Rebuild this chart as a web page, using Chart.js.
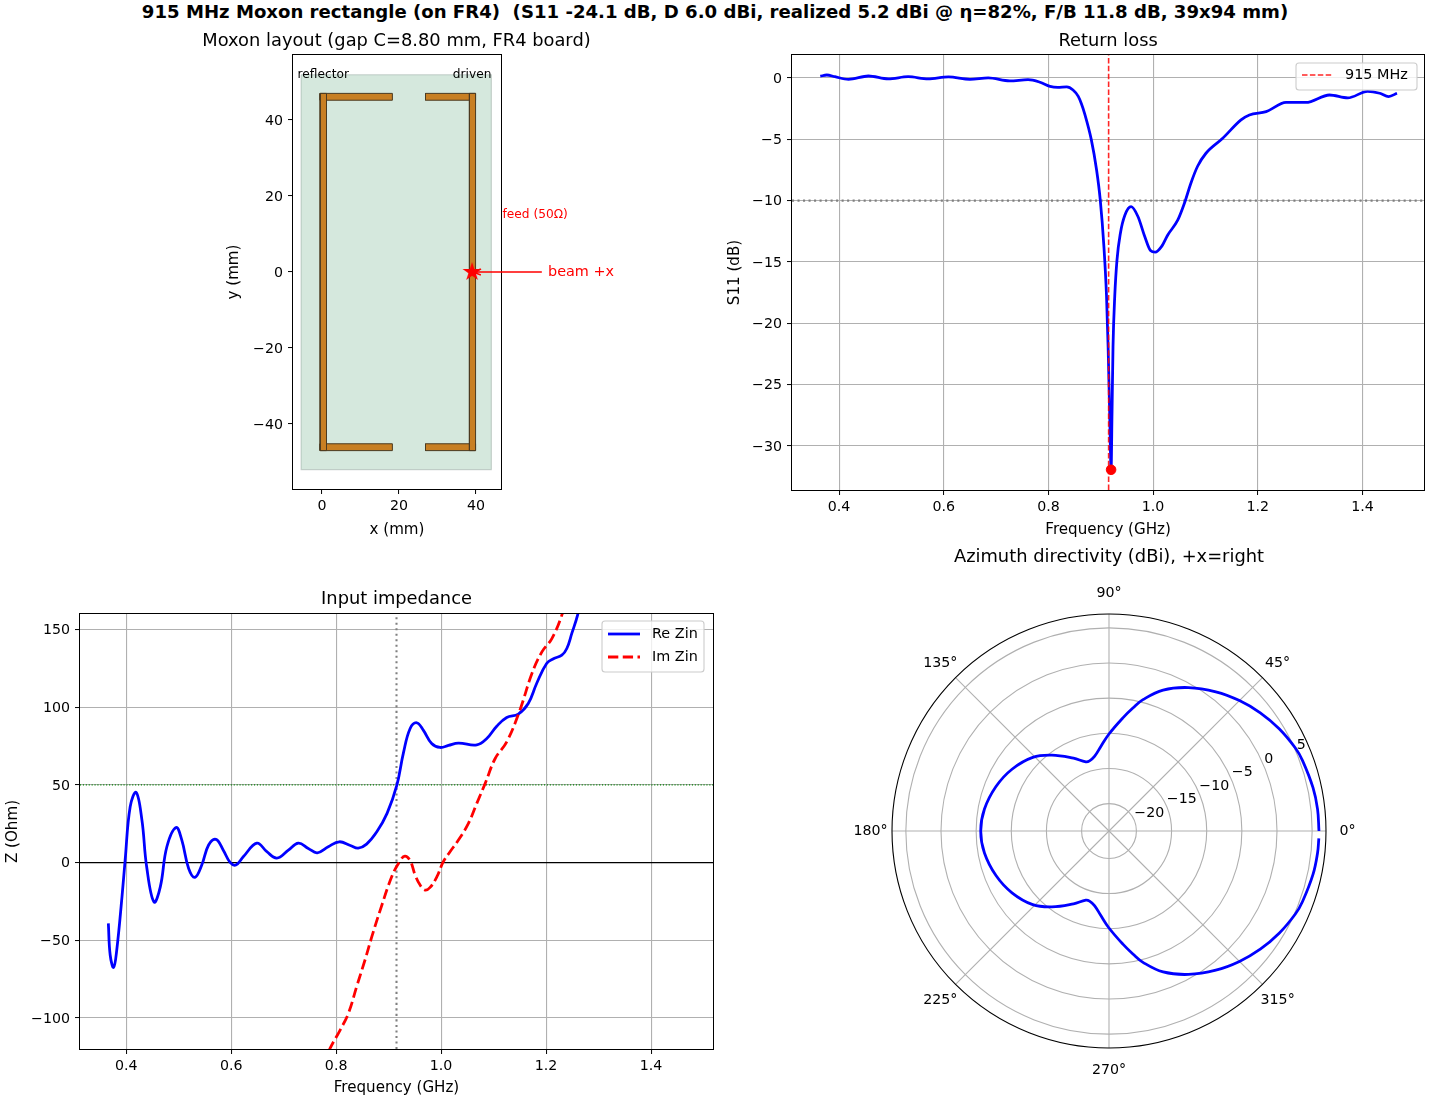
<!DOCTYPE html>
<html>
<head>
<meta charset="utf-8">
<title>915 MHz Moxon rectangle</title>
<script src="https://cdn.jsdelivr.net/npm/chart.js@4/dist/chart.umd.min.js"></script>
<style>
    html, body { margin: 0; padding: 0; background: #fff; overflow: hidden; }
    #suptitle { position: absolute; left: 0; top: 2px; width: 1430px; text-align: center; font: bold 18.1px/20px "DejaVu Sans"; color: #000; white-space: nowrap; }
    canvas { position: absolute; }
</style>
</head>
<body>
<div id="suptitle">915 MHz Moxon rectangle (on FR4)&nbsp; (S11 -24.1 dB, D 6.0 dBi, realized 5.2 dBi @ η=82%, F/B 11.8 dB, 39x94 mm)</div>
<canvas id="layoutChart" width="454" height="510" style="left:170px;top:30px"></canvas>
<canvas id="s11Chart" width="706" height="510" style="left:724px;top:30px"></canvas>
<canvas id="zinChart" width="720" height="512" style="left:0;top:588px"></canvas>
<canvas id="polarChart" width="700" height="540" style="left:730px;top:546px"></canvas>
<script>
// layout, mm
const boardX = [-5.4, 44, 44, -5.4, -5.4];
const boardY = [51.9, 51.9, -52, -52, 51.9];
const traceX0 = [-0.45, 38.3, -0.45, 26.9, -0.45, 26.9];
const traceX1 = [1.2, 39.9, 18.3, 39.9, 18.3, 39.9];
const traceY0 = [-47, -47, 45.2, 45.2, -47, -47];
const traceY1 = [47, 47, 47, 47, -45.2, -45.2];
const feedX = [39];
const feedY = [0];
const layoutXTicks = [0, 20, 40];
const layoutYTicks = [-40, -20, 0, 20, 40];

// return loss
const s11Freq = [0.364, 0.3765, 0.392, 0.418, 0.456, 0.494, 0.532, 0.570, 0.609, 0.650, 0.685, 0.726, 0.761, 0.784, 0.803, 0.818, 0.835, 0.847, 0.857, 0.863, 0.869, 0.882, 0.892, 0.899, 0.906, 0.911, 0.914, 0.917, 0.9197, 0.9215, 0.9234, 0.9267, 0.931, 0.9375, 0.946, 0.958, 0.971, 0.984, 0.995, 1.004, 1.016, 1.028, 1.047, 1.060, 1.072, 1.085, 1.101, 1.133, 1.168, 1.184, 1.216, 1.254, 1.292, 1.337, 1.372, 1.410, 1.433, 1.450, 1.466];
const s11Db = [0.14, 0.24, 0.1, -0.11, 0.16, -0.08, 0.1, -0.08, 0.08, -0.11, 0, -0.24, -0.14, -0.35, -0.68, -0.76, -0.73, -0.98, -1.5, -2.1, -2.88, -5.05, -7.5, -9.94, -13.75, -17.8, -21.9, -27.3, -31.95, -27.3, -21.9, -17.8, -14.83, -12.66, -11.2, -10.5, -11.3, -12.93, -14.07, -14.2, -13.75, -12.8, -11.6, -10.2, -8.6, -7.2, -6.14, -4.92, -3.42, -3.02, -2.75, -2.0, -2.0, -1.39, -1.63, -1.09, -1.25, -1.52, -1.25];
const s11XTicks = [0.4, 0.6, 0.8, 1.0, 1.2, 1.4];
const s11YTicks = [-30, -25, -20, -15, -10, -5, 0];
const markerFreq = [0.9197];
const markerDb = [-31.95];
const targetFreq = 0.915;
const s11Limit = -10;

// impedance
const reFreq = [0.366, 0.3695, 0.376, 0.382, 0.392, 0.398, 0.4076, 0.419, 0.430, 0.439, 0.453, 0.465, 0.4775, 0.495, 0.506, 0.519, 0.531, 0.544, 0.557, 0.571, 0.585, 0.598, 0.609, 0.623, 0.649, 0.668, 0.687, 0.709, 0.728, 0.747, 0.764, 0.785, 0.806, 0.827, 0.842, 0.858, 0.8775, 0.897, 0.9157, 0.928, 0.941, 0.9537, 0.966, 0.982, 0.998, 1.014, 1.033, 1.068, 1.087, 1.106, 1.125, 1.147, 1.166, 1.182, 1.201, 1.214, 1.23, 1.2395, 1.249, 1.26, 1.27];
const reZ = [-39.1, -59.5, -67.5, -56.3, -22, 1.6, 35.9, 45.2, 27.3, -2.7, -25.4, -15.6, 10.2, 22.6, 14.5, -3.8, -9.5, -1.6, 11.3, 14.9, 8, 0.1, -1.6, 3.7, 12.5, 7, 2.9, 8, 12.5, 9.1, 6.3, 10.2, 13.4, 11, 9.3, 11.9, 19.8, 31.7, 49.9, 70.3, 86.3, 90, 85.3, 76.7, 74.1, 75.4, 76.9, 75.8, 79.9, 87.8, 93.4, 95.6, 102.4, 115.3, 128.2, 131.2, 133.5, 137.8, 147.5, 159.3, 175];
const imFreq = [0.775, 0.7886, 0.8076, 0.8234, 0.839, 0.855, 0.868, 0.884, 0.906, 0.9206, 0.931, 0.941, 0.9505, 0.96, 0.9695, 0.979, 0.992, 1.004, 1.017, 1.033, 1.052, 1.068, 1.084, 1.103, 1.125, 1.150, 1.173, 1.192, 1.211, 1.23, 1.245];
const imZ = [-130, -119.5, -107.8, -97, -79.9, -62.7, -47.7, -30.6, -9, 0.5, 4.2, 1.2, -8, -14.5, -17.7, -16, -9.1, 0.5, 7, 14.5, 25.2, 38.1, 51, 67, 77.7, 98.1, 121.7, 135.6, 144.2, 159.3, 178];
const zinXTicks = [0.4, 0.6, 0.8, 1.0, 1.2, 1.4];
const zinYTicks = [-100, -50, 0, 50, 100, 150];
const refImpedance = 50;

// azimuth pattern
const azAngle = [0, 6, 12, 20, 24, 31, 38, 45, 52.5, 61, 69, 75.5, 79, 83, 90, 95.5, 101, 105.5, 108.5, 116, 127, 136, 147.5, 158.5, 170, 180, 190, 201.5, 212.5, 224, 233, 244, 251.5, 254.5, 259, 264.5, 270, 277, 281, 284.5, 291, 299, 307.5, 315, 322, 329, 336, 340, 348, 354, 358];
const azDb = [5.97, 5.93, 5.77, 5.4, 5.12, 4.34, 3.41, 2.34, 1.06, -0.57, -2.42, -4.6, -6.08, -7.68, -10.1, -11.81, -13.09, -13.54, -13.52, -12.38, -10.39, -8.82, -7.54, -6.62, -5.91, -5.65, -5.91, -6.62, -7.54, -8.82, -10.39, -12.38, -13.52, -13.54, -13.09, -11.81, -10.1, -7.68, -6.08, -4.6, -2.42, -0.57, 1.06, 2.34, 3.41, 4.34, 5.12, 5.4, 5.77, 5.93, 5.97];
const rTicks = [-20, -15, -10, -5, 0, 5];
const thetaTicks = [0, 45, 90, 135, 180, 225, 270, 315];
const rMin = -23.9;
const rMax = 6.97;

const FONT = '"DejaVu Sans"';
const GRID = '#b0b0b0';
const TITLE_FONT = {size: 17.85, weight: 'normal'};
Chart.defaults.font.family = FONT;
Chart.defaults.font.size = 14.2;
Chart.defaults.color = '#000';
Chart.defaults.animation = false;

function points(xs, ys) {
    return xs.map((x, i) => ({x: x, y: ys[i]}));
}

function lineSet(xs, ys, color, width, dash, extra) {
    return Object.assign({
        data: points(xs, ys), showLine: true, pointRadius: 0, borderColor: color, borderWidth: width, borderDash: dash || []
    }, extra || {});
}

function rectSet(xs, ys, fillColor, edgeColor, width) {
    return lineSet(xs, ys, edgeColor, width, [], {fill: 'shape', backgroundColor: fillColor});
}

function fmt(v) {
    return v < 0 ? '\u2212' + (-v) : '' + v;
}

function axis(ticks, min, max, size, titleText, titlePad, withGrid, labelFmt) {
    return {
        type: 'linear', min: min, max: max,
        afterBuildTicks: s => { s.ticks = ticks.map(v => ({value: v})); },
        afterFit: s => { if (s.isHorizontal()) s.height = size; else s.width = size; },
        ticks: {autoSkip: false, maxRotation: 0, padding: labelFmt ? 4 : 5, labelOffset: labelFmt ? 0 : 1, callback: labelFmt || fmt},
        grid: {color: GRID, lineWidth: 1.1, tickColor: '#000', tickWidth: 1, tickLength: 5, drawOnChartArea: withGrid},
        border: {display: false},
        // bottom axes read padding.bottom, left axes padding.top
        title: {display: true, text: titleText, padding: {top: titlePad, bottom: titlePad}, font: {size: 15.1}}
    };
}

function xFmt(v) {
    return v.toFixed(1);
}

// matplotlib boxes all four sides
const framePlugin = {
    id: 'frame',
    afterDatasetsDraw(chart) {
        const a = chart.chartArea, ctx = chart.ctx;
        ctx.save();
        ctx.strokeStyle = '#000';
        ctx.lineWidth = 1;
        ctx.strokeRect(Math.round(a.left) - 0.5, Math.round(a.top) - 0.5, Math.round(a.right - a.left) + 1, Math.round(a.bottom - a.top) + 1);
        ctx.restore();
    }
};

function boxLegend(box, entries) {
    return {
        id: 'boxLegend',
        afterDraw(chart) {
            const ctx = chart.ctx;
            ctx.save();
            ctx.beginPath();
            ctx.roundRect(box.x, box.y, box.w, box.h, 3);
            ctx.fillStyle = 'rgba(255,255,255,0.8)';
            ctx.fill();
            ctx.strokeStyle = '#cccccc';
            ctx.lineWidth = 1.1;
            ctx.stroke();
            ctx.font = '14.4px ' + FONT;
            ctx.textBaseline = 'middle';
            entries.forEach(e => {
                ctx.beginPath();
                ctx.setLineDash(e.dash);
                ctx.strokeStyle = e.color;
                ctx.lineWidth = e.width;
                ctx.moveTo(box.x + box.lineX, e.y);
                ctx.lineTo(box.x + box.lineX + box.lineW, e.y);
                ctx.stroke();
                ctx.setLineDash([]);
                ctx.fillStyle = '#000';
                ctx.fillText(e.label, box.x + box.textX, e.y + 0.5);
            });
            ctx.restore();
        }
    };
}

// title and labels of the layout panel, the title is wider than the axes
const layoutNotes = {
    id: 'layoutNotes',
    afterDatasetsDraw(chart) {
        const ctx = chart.ctx, sx = chart.scales.x, sy = chart.scales.y;
        ctx.save();
        ctx.textBaseline = 'middle';
        ctx.fillStyle = '#000';
        ctx.textAlign = 'center';
        ctx.font = '17.85px ' + FONT;
        ctx.fillText('Moxon layout (gap C=8.80 mm, FR4 board)', (chart.chartArea.left + chart.chartArea.right) / 2 - 0.5, 11);
        ctx.font = '12.2px ' + FONT;
        ctx.textAlign = 'left';
        ctx.fillText('reflector', sx.getPixelForValue(-6.3), sy.getPixelForValue(52));
        ctx.textAlign = 'right';
        ctx.fillText('driven', sx.getPixelForValue(44), sy.getPixelForValue(52));
        ctx.textAlign = 'left';
        ctx.fillStyle = '#ff0000';
        ctx.fillText('feed (50\u03a9)', sx.getPixelForValue(46.9), sy.getPixelForValue(15));
        ctx.font = '14.4px ' + FONT;
        ctx.fillText('beam +x', sx.getPixelForValue(58.7), sy.getPixelForValue(0));

        const x0 = sx.getPixelForValue(57.1), x1 = sx.getPixelForValue(39.2), y = sy.getPixelForValue(0);
        ctx.strokeStyle = '#ff0000';
        ctx.lineWidth = 1.4;
        ctx.beginPath();
        ctx.moveTo(x0, y);
        ctx.lineTo(x1, y);
        ctx.moveTo(x1 + 8, y - 3);
        ctx.lineTo(x1, y);
        ctx.lineTo(x1 + 8, y + 3);
        ctx.stroke();
        ctx.restore();
    }
};

function makeStar(outer) {
    const size = Math.ceil(outer * 2 + 2);
    const c = document.createElement('canvas');
    c.width = size;
    c.height = size;
    const g = c.getContext('2d');
    g.fillStyle = '#ff0000';
    g.beginPath();
    for (let i = 0; i < 10; i++) {
        const r = i % 2 ? outer * 0.382 : outer;
        const a = -Math.PI / 2 + i * Math.PI / 5;
        g.lineTo(size / 2 + r * Math.cos(a), size / 2 + r * Math.sin(a));
    }
    g.closePath();
    g.fill();
    return c;
}

// Layout
const layoutSets = [
    lineSet(feedX, feedY, '#ff0000', 0, [], {showLine: false, pointRadius: 10, pointStyle: makeStar(10)})
];
traceX0.forEach((x0, i) => {
    const x1 = traceX1[i], y0 = traceY0[i], y1 = traceY1[i];
    layoutSets.push(rectSet([x0, x1, x1, x0, x0], [y0, y0, y1, y1, y0], '#c87f23', '#4b3a20', 1));
});
layoutSets.push(rectSet(boardX, boardY, 'rgba(46,139,87,0.2)', 'rgba(40,70,60,0.22)', 1.1));

new Chart(document.getElementById('layoutChart'), {
    type: 'scatter',
    data: {datasets: layoutSets},
    options: {
        responsive: false,
        layout: {padding: {top: 25, right: 123}},
        plugins: {legend: {display: false}, tooltip: {enabled: false}},
        scales: {
            x: axis(layoutXTicks, -7.5, 46.5, 51, 'x (mm)', 1, false, v => '' + v),
            y: axis(layoutYTicks, -57.1, 57.1, 123, 'y (mm)', 55, false)
        }
    },
    plugins: [framePlugin, layoutNotes]
});

// Return loss
new Chart(document.getElementById('s11Chart'), {
    type: 'scatter',
    data: {
        datasets: [
            lineSet(markerFreq, markerDb, '#ff0000', 1, [], {showLine: false, pointRadius: 4.8, backgroundColor: '#ff0000'}),
            lineSet([targetFreq, targetFreq], [-33.6, 1.87], 'rgba(255,0,0,0.85)', 1.6, [5.5, 2.4]),
            lineSet(s11Freq, s11Db, '#0000ff', 2.78, [], {cubicInterpolationMode: 'monotone'}),
            lineSet([0.31, 1.518], [s11Limit, s11Limit], '#808080', 2.08, [2.08, 3.43])
        ]
    },
    options: {
        responsive: false,
        layout: {padding: {right: 5}},
        plugins: {
            legend: {display: false}, tooltip: {enabled: false},
            title: {display: true, fullSize: false, text: 'Return loss', font: TITLE_FONT, padding: {top: 1, bottom: 2.6}}
        },
        scales: {
            x: axis(s11XTicks, 0.31, 1.518, 50, 'Frequency (GHz)', 1, true, xFmt),
            y: axis(s11YTicks, -33.6, 1.87, 68, 'S11 (dB)', 2, true)
        }
    },
    plugins: [framePlugin, boxLegend({x: 1296 - 724, y: 63 - 30, w: 121, h: 27, lineX: 6, lineW: 30, textX: 49},
        [{label: '915 MHz', color: 'rgba(255,0,0,0.85)', width: 1.6, dash: [5.5, 2.4], y: 75 - 30}])]
});

// Impedance
new Chart(document.getElementById('zinChart'), {
    type: 'scatter',
    data: {
        datasets: [
            lineSet(imFreq, imZ, '#ff0000', 2.78, [10.3, 4.45], {tension: 0.4}),
            lineSet(reFreq, reZ, '#0000ff', 2.78, [], {tension: 0.4}),
            lineSet([targetFreq, targetFreq], [-120, 160], '#808080', 2.08, [2.08, 3.43]),
            lineSet([0.312, 1.518], [refImpedance, refImpedance], '#008000', 1.1, [1.1, 1.8]),
            lineSet([0.312, 1.518], [0, 0], '#000000', 1.1)
        ]
    },
    options: {
        responsive: false,
        layout: {padding: {right: 7}},
        plugins: {
            legend: {display: false}, tooltip: {enabled: false},
            title: {display: true, fullSize: false, text: 'Input impedance', font: TITLE_FONT, padding: {top: 1, bottom: 3.6}}
        },
        scales: {
            x: axis(zinXTicks, 0.312, 1.518, 51, 'Frequency (GHz)', 3, true, xFmt),
            y: axis(zinYTicks, -120, 160, 80, 'Z (Ohm)', 4, true)
        }
    },
    plugins: [framePlugin, boxLegend({x: 602, y: 621 - 588, w: 102, h: 51, lineX: 6, lineW: 32, textX: 50}, [
        {label: 'Re Zin', color: '#0000ff', width: 2.78, dash: [], y: 634 - 588},
        {label: 'Im Zin', color: '#ff0000', width: 2.78, dash: [10.3, 4.45], y: 657 - 588}
    ])]
});

// Polar rings, spokes and labels are drawn on the scales, which run over r = dB - rMin
const polarGrid = {
    id: 'polarGrid',
    beforeDatasetsDraw(chart) {
        const ctx = chart.ctx, sx = chart.scales.x, sy = chart.scales.y;
        const cx = sx.getPixelForValue(0), cy = sy.getPixelForValue(0);
        const outer = sx.getPixelForValue(rMax - rMin) - cx;
        ctx.save();
        ctx.strokeStyle = GRID;
        ctx.lineWidth = 1.1;
        rTicks.forEach(v => {
            ctx.beginPath();
            ctx.arc(cx, cy, sx.getPixelForValue(v - rMin) - cx, 0, Math.PI * 2);
            ctx.stroke();
        });
        thetaTicks.forEach(t => {
            const a = t * Math.PI / 180;
            ctx.beginPath();
            ctx.moveTo(cx, cy);
            ctx.lineTo(cx + outer * Math.cos(a), cy - outer * Math.sin(a));
            ctx.stroke();
        });
        ctx.restore();
    },
    afterDatasetsDraw(chart) {
        const ctx = chart.ctx, sx = chart.scales.x, sy = chart.scales.y;
        const cx = sx.getPixelForValue(0), cy = sy.getPixelForValue(0);
        const outer = sx.getPixelForValue(rMax - rMin) - cx;
        ctx.save();
        ctx.strokeStyle = '#000';
        ctx.lineWidth = 1.1;
        ctx.beginPath();
        ctx.arc(cx, cy, outer, 0, Math.PI * 2);
        ctx.stroke();
        ctx.font = '14.2px ' + FONT;
        ctx.fillStyle = '#000';
        ctx.textAlign = 'left';
        ctx.textBaseline = 'alphabetic';
        const la = 22.5 * Math.PI / 180;
        rTicks.forEach(v => {
            const r = sx.getPixelForValue(v - rMin) - cx;
            ctx.fillText(fmt(v), cx + r * Math.cos(la), cy - r * Math.sin(la) - 4);
        });
        ctx.textAlign = 'center';
        ctx.textBaseline = 'middle';
        thetaTicks.forEach(t => {
            const a = t * Math.PI / 180;
            ctx.fillText(t + '\u00b0', cx + (outer + 21.5) * Math.cos(a), cy - (outer + 21.5) * Math.sin(a) + 0.5);
        });
        ctx.restore();
    }
};

const polarXs = azAngle.map((t, i) => (azDb[i] - rMin) * Math.cos(t * Math.PI / 180));
const polarYs = azAngle.map((t, i) => (azDb[i] - rMin) * Math.sin(t * Math.PI / 180));
const polarSpan = rMax - rMin;

new Chart(document.getElementById('polarChart'), {
    type: 'scatter',
    data: {datasets: [lineSet(polarXs, polarYs, '#0000ff', 2.78, [], {tension: 0.4})]},
    options: {
        responsive: false,
        layout: {padding: {left: 162, right: 104, bottom: 38}},
        plugins: {
            legend: {display: false}, tooltip: {enabled: false},
            title: {display: true, fullSize: false, text: 'Azimuth directivity (dBi), +x=right', font: TITLE_FONT, padding: {top: 1, bottom: 45.6}}
        },
        scales: {
            x: {type: 'linear', display: false, min: -polarSpan, max: polarSpan},
            y: {type: 'linear', display: false, min: -polarSpan, max: polarSpan}
        }
    },
    plugins: [polarGrid]
});
</script>
</body>
</html>
